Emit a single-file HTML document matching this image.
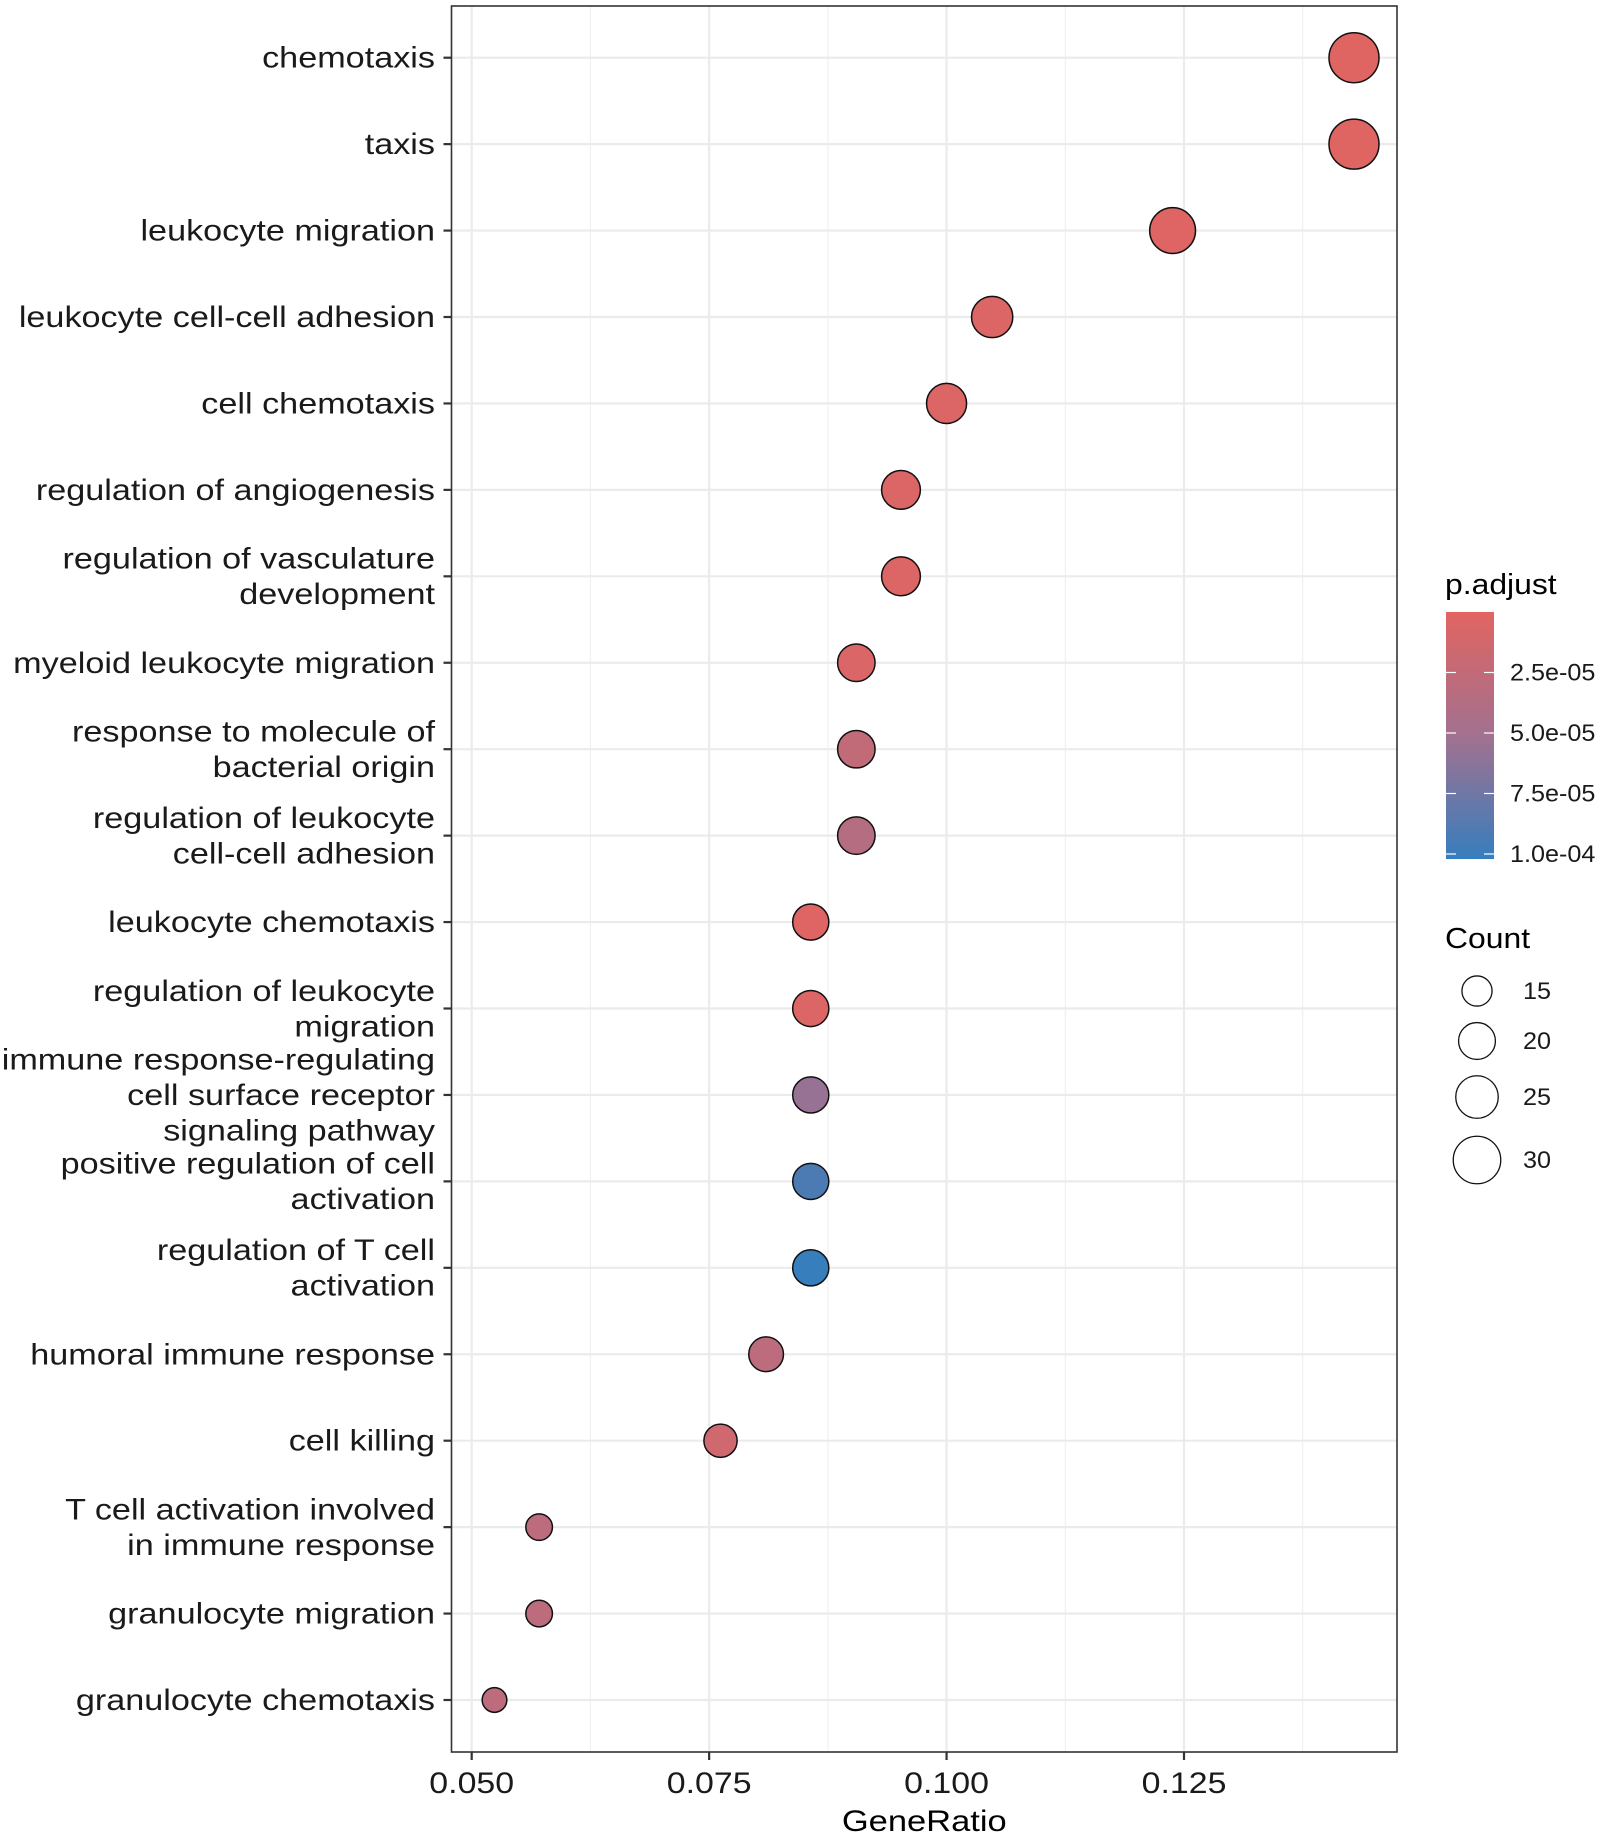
<!DOCTYPE html>
<html><head><meta charset="utf-8"><style>
html,body{margin:0;padding:0;background:#fff}
svg{display:block;font-family:"Liberation Sans",Arial,sans-serif}
</style></head><body>
<svg id="chart" width="1600" height="1836" viewBox="0 0 1600 1836" xmlns="http://www.w3.org/2000/svg"></svg>
<script>
const categories = [
 "chemotaxis","taxis","leukocyte migration","leukocyte cell-cell adhesion","cell chemotaxis",
 "regulation of angiogenesis","regulation of vasculature|development","myeloid leukocyte migration",
 "response to molecule of|bacterial origin","regulation of leukocyte|cell-cell adhesion",
 "leukocyte chemotaxis","regulation of leukocyte|migration","immune response-regulating|cell surface receptor|signaling pathway",
 "positive regulation of cell|activation","regulation of T cell|activation","humoral immune response",
 "cell killing","T cell activation involved|in immune response","granulocyte migration","granulocyte chemotaxis"];
const geneRatio = [0.1429,0.1429,0.1238,0.1048,0.1000,0.0952,0.0952,0.0905,0.0905,0.0905,0.0857,0.0857,0.0857,0.0857,0.0857,0.0810,0.0762,0.0571,0.0571,0.0524];
const counts = [30,30,26,22,21,20,20,19,19,19,18,18,18,18,18,17,16,12,12,11];
const pAdjust = [0.2e-5,0.2e-5,0.3e-5,0.5e-5,0.5e-5,0.5e-5,0.5e-5,0.6e-5,2.5e-5,3.5e-5,0.3e-5,0.5e-5,5.5e-5,9.0e-5,10.0e-5,3.0e-5,1.5e-5,3.0e-5,3.0e-5,3.0e-5];
const xTicks = [0.050,0.075,0.100,0.125];
const xTickLabels = ["0.050","0.075","0.100","0.125"];
const colorTicks = [2.5e-5,5.0e-5,7.5e-5,1.0e-4];
const colorTickLabels = ["2.5e-05","5.0e-05","7.5e-05","1.0e-04"];
const sizeBreaks = [15,20,25,30];

const svg = document.getElementById('chart');
const NS = 'http://www.w3.org/2000/svg';
const P = {l:451.5, r:1397, t:6, b:1752};
const xs = v => 471.7 + (v-0.05)*(1184-471.7)/0.075;
const ys = i => 57.7 + i*(1700-57.7)/19;
const rs = c => Math.sqrt(Math.max(80, -122 + 24.9*c));
const cmax = 1.0e-4;
function lerp(a,b,t){return a.map((v,i)=>Math.round(v+(b[i]-v)*t));}
function color(p){
  const t = Math.min(1,Math.max(0,p/cmax));
  const s0=[226,100,97], s1=[162,113,143], s2=[55,126,189];
  const c = t<0.5 ? lerp(s0,s1,t/0.5) : lerp(s1,s2,(t-0.5)/0.5);
  return `rgb(${c[0]},${c[1]},${c[2]})`;
}
const cs = p => 612 + (p/cmax)*(854-612);
function el(tag, attrs, parent){const e=document.createElementNS(NS,tag);for(const k in attrs)e.setAttribute(k,attrs[k]);(parent||svg).appendChild(e);return e;}
function txt(x,y,anchor,size,sx,str,fill,parent){
  const t = el('text',{x:0,y:0,'text-anchor':anchor,'font-size':size,fill:fill,transform:`translate(${x},${y}) scale(${sx},1)`},parent);
  t.textContent = str;
  return t;
}

// grid
const grid = el('g',{});


for(let k=0;k<xTicks.length;k++){
  const mid = xTicks[k]+0.0125;
  if(xs(mid)<P.r) el('line',{x1:xs(mid),x2:xs(mid),y1:P.t,y2:P.b,stroke:'#f0f0f0','stroke-width':1.2},grid);
}
xTicks.forEach(v=>el('line',{x1:xs(v),x2:xs(v),y1:P.t,y2:P.b,stroke:'#ebebeb','stroke-width':2.2},grid));
categories.forEach((c,i)=>el('line',{x1:P.l,x2:P.r,y1:ys(i),y2:ys(i),stroke:'#ebebeb','stroke-width':2.2},grid));

// points
const pts = el('g',{});


categories.forEach((c,i)=>{
  const e = el('circle',{cx:xs(geneRatio[i]),cy:ys(i),r:rs(counts[i]),fill:color(pAdjust[i]),stroke:'#111','stroke-width':1.5},pts);
  
  
});

// panel border
const border = el('rect',{x:P.l,y:P.t,width:P.r-P.l,height:P.b-P.t,fill:'none',stroke:'#333','stroke-width':1.6});



// y labels
const yax = el('g',{});


categories.forEach((c,i)=>{
  el('line',{x1:P.l-8,x2:P.l,y1:ys(i),y2:ys(i),stroke:'#333','stroke-width':2.2},yax);
  const lines = c.split('|');
  lines.forEach((ln,j)=>{
    const t = txt(435, ys(i)+10+(j-(lines.length-1)/2)*35.5, 'end', 30, 1.14, ln, '#1a1a1a', yax);
    
    
  });
});

// x axis
const xax = el('g',{});


xTicks.forEach((v,k)=>{
  el('line',{x1:xs(v),x2:xs(v),y1:P.b,y2:P.b+8,stroke:'#333','stroke-width':2.2},xax);
  const t = txt(xs(v), 1793, 'middle', 30, 1.13, xTickLabels[k], '#1a1a1a', xax);
  
  
});
const xt = txt((P.l+P.r)/2, 1831, 'middle', 30, 1.15, 'GeneRatio', '#000');



// color legend
const leg = el('g',{});


const pt = txt(1445, 594, 'start', 29, 1.1, 'p.adjust', '#000', leg);


const defs = el('defs',{});
const grad = el('linearGradient',{id:'g1',x1:0,y1:0,x2:0,y2:1},defs);
for(let s=0;s<=10;s++){el('stop',{offset:s/10,'stop-color':color(cmax*s/10)},grad);}
const bar = el('rect',{x:1446,y:612,width:48,height:247,fill:'url(#g1)'},leg);


colorTicks.forEach((v,k)=>{
  el('line',{x1:1446,x2:1456,y1:cs(v),y2:cs(v),stroke:'#fff','stroke-width':1.2},leg);
  el('line',{x1:1484,x2:1494,y1:cs(v),y2:cs(v),stroke:'#fff','stroke-width':1.2},leg);
  const t = txt(1510, cs(v)+8, 'start', 24, 1.05, colorTickLabels[k], '#1a1a1a', leg);
  
  
});

// size legend
const sl = el('g',{});


const st = txt(1445, 948, 'start', 29, 1.1, 'Count', '#000', sl);


const sy = [991,1041,1097,1160];
sizeBreaks.forEach((v,k)=>{
  const c = el('circle',{cx:1477,cy:sy[k],r:rs(v)*0.95,fill:'#fff',stroke:'#111','stroke-width':1.3},sl);
  
  
  const t = txt(1523, sy[k]+8, 'start', 24, 1.05, String(v), '#1a1a1a', sl);
  
  
});
</script>
</body></html>
